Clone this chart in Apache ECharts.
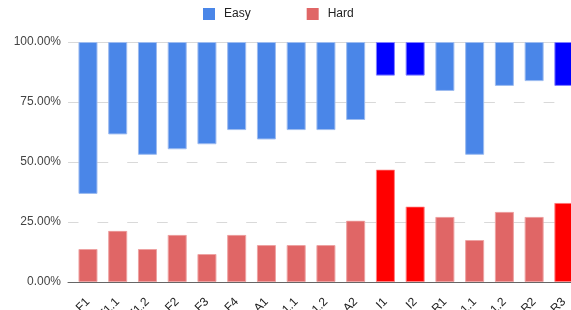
<!DOCTYPE html>
<html>
<head>
<meta charset="utf-8">
<script src="https://cdn.jsdelivr.net/npm/echarts@6/dist/echarts.min.js"></script>
<style>
  html, body { margin: 0; padding: 0; background: #fff; }
  #chart { width: 571px; height: 310px; }
</style>
</head>
<body>
<div id="chart"></div>
<script>
// categories and values (percent)
var cats = ['F1', 'F1.1', 'F1.2', 'F2', 'F3', 'F4', 'A1', 'A1.1', 'A1.2', 'A2', 'I1', 'I2', 'R1', 'R1.1', 'R1.2', 'R2', 'R3'];
var easyPct = [63.3, 38.5, 47.0, 44.7, 42.6, 36.7, 40.6, 36.7, 36.7, 32.5, 14.0, 14.0, 20.4, 47.0, 18.3, 16.3, 18.3];
var hardPct = [13.8, 21.4, 13.8, 19.7, 11.7, 19.7, 15.4, 15.4, 15.4, 25.6, 46.9, 31.5, 27.2, 17.5, 29.3, 27.2, 33.0];
var highlight = ['I1', 'I2', 'R3'];
var yTicks = [0, 25, 50, 75, 100];

var font = 'Arial, "Liberation Sans", sans-serif';

// white filler between hard (bottom) and easy (top) so the chart stacks to 100%
var gapPct = cats.map(function (c, i) {
    return +(100 - hardPct[i] - easyPct[i]).toFixed(2);
});

function colored(vals, base, baseBorder, hi, hiBorder) {
    return vals.map(function (v, i) {
        var h = highlight.indexOf(cats[i]) >= 0;
        return {
            value: v,
            itemStyle: { color: h ? hi : base, borderColor: h ? hiBorder : baseBorder }
        };
    });
}

var chart = echarts.init(document.getElementById('chart'));

var option = {
    animation: false,
    textStyle: { fontFamily: font },
    legend: {
        data: ['Easy', 'Hard'],
        top: 8,
        left: 203,
        padding: 0,
        itemWidth: 12,
        itemHeight: 12,
        itemGap: 56,
        icon: 'rect',
        itemStyle: { borderWidth: 0 },
        textStyle: { fontSize: 12, color: '#222', fontFamily: font, padding: [0, 0, 0, 4] }
    },
    grid: [
        { left: 68, right: -8, top: 42, bottom: 28, outerBoundsMode: 'none' },   // gridlines + baseline
        { left: 73.1, right: -7.75, top: 42, bottom: 28, outerBoundsMode: 'none' } // bars
    ],
    xAxis: [
        {
            gridIndex: 0, type: 'value', min: 0, max: 1,
            axisLine: { show: true, lineStyle: { color: '#666', width: 1 } },
            axisTick: { show: false }, axisLabel: { show: false }, splitLine: { show: false }
        },
        {
            gridIndex: 1, type: 'category', data: cats,
            axisLine: { show: false }, axisTick: { show: false },
            axisLabel: { rotate: 45, margin: 18, fontSize: 12, color: '#222', fontFamily: font, interval: 0 }
        }
    ],
    yAxis: [
        {
            gridIndex: 0, type: 'value', min: 0, max: 100, interval: 25,
            axisLine: { show: false }, axisTick: { show: false },
            axisLabel: {
                margin: 7, fontSize: 12, color: '#444', fontFamily: font,
                formatter: function (v) { return yTicks.indexOf(v) >= 0 ? v.toFixed(2) + '%' : ''; }
            },
            splitLine: { lineStyle: { color: '#d9d9d9', width: 1 } }
        },
        {
            gridIndex: 1, type: 'value', min: 0, max: 100, show: false
        }
    ],
    series: [
        {
            name: 'Hard', type: 'bar', stack: 'all', xAxisIndex: 1, yAxisIndex: 1,
            barWidth: 19,
            itemStyle: { color: '#e06666', borderWidth: 1, borderColor: '#eea3a3' },
            data: colored(hardPct, '#e06666', '#eea3a3', '#ff0000', '#ff8080')
        },
        {
            name: 'gap', type: 'bar', stack: 'all', xAxisIndex: 1, yAxisIndex: 1,
            barWidth: 19,
            itemStyle: { color: '#ffffff' },
            data: gapPct
        },
        {
            name: 'Easy', type: 'bar', stack: 'all', xAxisIndex: 1, yAxisIndex: 1,
            barWidth: 19,
            itemStyle: { color: '#4a86e8', borderWidth: 1, borderColor: '#9dbcf0' },
            data: colored(easyPct, '#4a86e8', '#9dbcf0', '#0000ff', '#7f7fff')
        }
    ]
};

chart.setOption(option);
</script>
</body>
</html>
